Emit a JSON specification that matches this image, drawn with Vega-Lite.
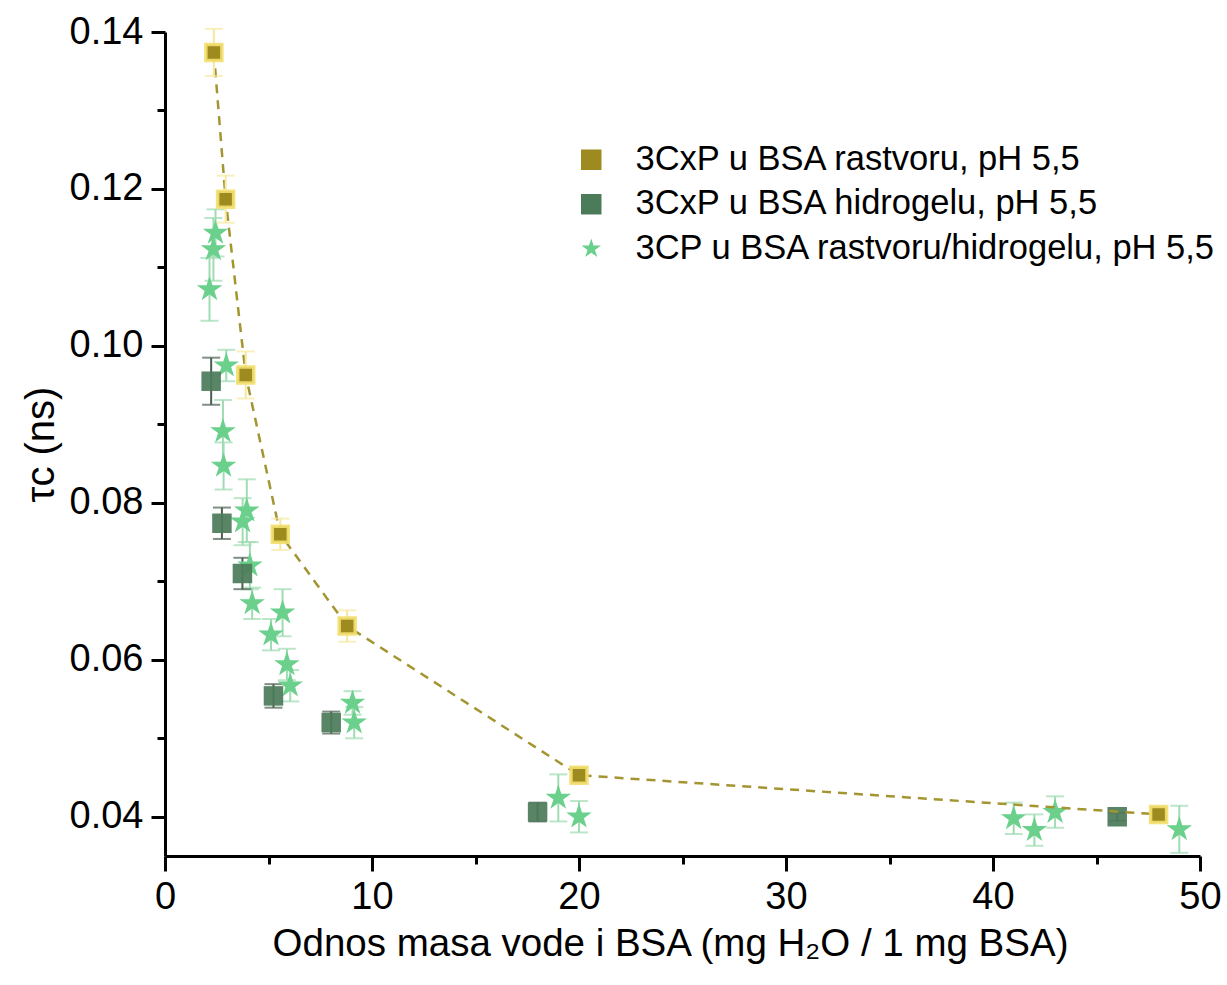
{
  "$schema": "https://vega.github.io/schema/vega-lite/v6.json",
  "width": 1035,
  "height": 824,
  "autosize": {"type": "none"},
  "padding": {"left": 165, "top": 32, "right": 27, "bottom": 129},
  "background": "white",
  "config": {
    "view": {"stroke": null},
    "font": "Liberation Sans",
    "axis": {
      "grid": false,
      "domainColor": "black",
      "tickColor": "black",
      "labelColor": "black",
      "titleColor": "black",
      "labelFont": "Liberation Sans",
      "titleFont": "Liberation Sans",
      "titleFontWeight": "normal",
      "domainWidth": 3,
      "tickWidth": 3,
      "labelOverlap": false,
      "labelBound": false
    },
    "legend": {
      "orient": "none", "legendX": 409, "legendY": 110.5, "title": null, "labelFontSize": 34.5, "labelFont": "Liberation Sans", "labelColor": "black",
      "symbolSize": 420, "labelOffset": 27, "rowPadding": 9.5, "labelLimit": 1000, "padding": 0
    }
  },
  "datasets": {
    "pts": [
      {"series": "3CxP u BSA rastvoru, pH 5,5", "x": 2.36, "y": 0.1374, "err": 0.003},
      {"series": "3CxP u BSA rastvoru, pH 5,5", "x": 2.93, "y": 0.1187, "err": 0.003},
      {"series": "3CxP u BSA rastvoru, pH 5,5", "x": 3.9, "y": 0.0963, "err": 0.003},
      {"series": "3CxP u BSA rastvoru, pH 5,5", "x": 5.57, "y": 0.0760, "err": 0.002},
      {"series": "3CxP u BSA rastvoru, pH 5,5", "x": 8.8, "y": 0.0643, "err": 0.002},
      {"series": "3CxP u BSA rastvoru, pH 5,5", "x": 20, "y": 0.0453, "err": 0.001},
      {"series": "3CxP u BSA rastvoru, pH 5,5", "x": 48, "y": 0.0403, "err": 0.0008},
      {"series": "3CxP u BSA hidrogelu, pH 5,5", "x": 2.23, "y": 0.0955, "err": 0.003},
      {"series": "3CxP u BSA hidrogelu, pH 5,5", "x": 2.75, "y": 0.0774, "err": 0.002},
      {"series": "3CxP u BSA hidrogelu, pH 5,5", "x": 3.74, "y": 0.0710, "err": 0.002},
      {"series": "3CxP u BSA hidrogelu, pH 5,5", "x": 5.24, "y": 0.0554, "err": 0.0015},
      {"series": "3CxP u BSA hidrogelu, pH 5,5", "x": 8.03, "y": 0.0520, "err": 0.0014},
      {"series": "3CxP u BSA hidrogelu, pH 5,5", "x": 18, "y": 0.0406, "err": 0.0012},
      {"series": "3CxP u BSA hidrogelu, pH 5,5", "x": 46, "y": 0.0400, "err": 0.0005},
      {"series": "3CP u BSA rastvoru/hidrogelu, pH 5,5", "x": 2.44, "y": 0.1144, "err": 0.003},
      {"series": "3CP u BSA rastvoru/hidrogelu, pH 5,5", "x": 2.34, "y": 0.1123, "err": 0.004},
      {"series": "3CP u BSA rastvoru/hidrogelu, pH 5,5", "x": 2.15, "y": 0.1072, "err": 0.004},
      {"series": "3CP u BSA rastvoru/hidrogelu, pH 5,5", "x": 2.96, "y": 0.0975, "err": 0.002},
      {"series": "3CP u BSA rastvoru/hidrogelu, pH 5,5", "x": 2.80, "y": 0.0891, "err": 0.004},
      {"series": "3CP u BSA rastvoru/hidrogelu, pH 5,5", "x": 2.83, "y": 0.0847, "err": 0.003},
      {"series": "3CP u BSA rastvoru/hidrogelu, pH 5,5", "x": 3.95, "y": 0.0790, "err": 0.004},
      {"series": "3CP u BSA rastvoru/hidrogelu, pH 5,5", "x": 3.75, "y": 0.0776, "err": 0.003},
      {"series": "3CP u BSA rastvoru/hidrogelu, pH 5,5", "x": 4.1, "y": 0.0720, "err": 0.003},
      {"series": "3CP u BSA rastvoru/hidrogelu, pH 5,5", "x": 4.21, "y": 0.0672, "err": 0.002},
      {"series": "3CP u BSA rastvoru/hidrogelu, pH 5,5", "x": 5.68, "y": 0.0660, "err": 0.003},
      {"series": "3CP u BSA rastvoru/hidrogelu, pH 5,5", "x": 5.12, "y": 0.0632, "err": 0.002},
      {"series": "3CP u BSA rastvoru/hidrogelu, pH 5,5", "x": 5.89, "y": 0.0594, "err": 0.002},
      {"series": "3CP u BSA rastvoru/hidrogelu, pH 5,5", "x": 6.05, "y": 0.0567, "err": 0.002},
      {"series": "3CP u BSA rastvoru/hidrogelu, pH 5,5", "x": 9.06, "y": 0.0545, "err": 0.0015},
      {"series": "3CP u BSA rastvoru/hidrogelu, pH 5,5", "x": 9.14, "y": 0.0520, "err": 0.002},
      {"series": "3CP u BSA rastvoru/hidrogelu, pH 5,5", "x": 19, "y": 0.0424, "err": 0.003},
      {"series": "3CP u BSA rastvoru/hidrogelu, pH 5,5", "x": 20, "y": 0.0400, "err": 0.002},
      {"series": "3CP u BSA rastvoru/hidrogelu, pH 5,5", "x": 41, "y": 0.0398, "err": 0.002},
      {"series": "3CP u BSA rastvoru/hidrogelu, pH 5,5", "x": 42, "y": 0.0383, "err": 0.002},
      {"series": "3CP u BSA rastvoru/hidrogelu, pH 5,5", "x": 43, "y": 0.0406, "err": 0.002},
      {"series": "3CP u BSA rastvoru/hidrogelu, pH 5,5", "x": 49, "y": 0.0384, "err": 0.003}
    ]
  },
  "data": {"name": "pts"},
  "layer": [
    {
      "encoding": {
        "x": {"field": "x", "type": "quantitative", "scale": {"domain": [0, 50], "nice": false, "zero": false},
          "axis": {"orient": "bottom", "values": [0, 10, 20, 30, 40, 50], "format": "d", "labelFontSize": 38, "tickSize": 15, "labelPadding": 7, "labelFlush": false,
            "title": "Odnos masa vode i BSA (mg H₂O / 1 mg BSA)", "titleFontSize": 38.5, "titlePadding": 9, "titleX": 505, "titleAlign": "center"}},
        "y": {"field": "y", "type": "quantitative", "scale": {"domain": [0.035, 0.14], "nice": false, "zero": false},
          "axis": {"orient": "left", "values": [0.04, 0.06, 0.08, 0.1, 0.12, 0.14], "format": ".2f", "labelFontSize": 38, "tickSize": 14, "labelPadding": 8,
            "title": "τc (ns)", "titleFontSize": 40, "titlePadding": 8}},
        "color": {"field": "series", "type": "nominal",
          "scale": {"domain": ["3CxP u BSA rastvoru, pH 5,5", "3CxP u BSA hidrogelu, pH 5,5", "3CP u BSA rastvoru/hidrogelu, pH 5,5"], "range": ["#9e8b1f", "#4b7b59", "#6bd08c"]},
          "legend": {
            "encode": {"symbols": {"update": {
              "stroke": {"signal": "datum.value === '3CxP u BSA rastvoru, pH 5,5' ? '#f3df6e' : 'transparent'"},
              "strokeWidth": {"value": 3},
              "size": {"signal": "datum.value === '3CP u BSA rastvoru/hidrogelu, pH 5,5' ? 640 : (datum.value === '3CxP u BSA rastvoru, pH 5,5' ? 300 : 380)"}}}}}},
        "shape": {"field": "series", "type": "nominal",
          "scale": {"domain": ["3CxP u BSA rastvoru, pH 5,5", "3CxP u BSA hidrogelu, pH 5,5", "3CP u BSA rastvoru/hidrogelu, pH 5,5"], "range": ["square", "square", "M0,-1L0.2245,-0.309L0.951,-0.309L0.363,0.118L0.588,0.809L0,0.382L-0.588,0.809L-0.363,0.118L-0.951,-0.309L-0.2245,-0.309Z"]}}
      },
      "layer": [
        {
          "transform": [{"filter": "datum.series === '3CP u BSA rastvoru/hidrogelu, pH 5,5'"}],
          "mark": {"type": "errorbar", "ticks": true, "size": 18, "thickness": 2, "color": "#9fdcb2"},
          "encoding": {"yError": {"field": "err"}, "color": {"value": "#9fdcb2"}, "shape": null}
        },
        {
          "transform": [{"filter": "datum.series === '3CxP u BSA hidrogelu, pH 5,5'"}],
          "mark": {"type": "errorbar", "ticks": true, "size": 18, "thickness": 2, "color": "#4a5f50"},
          "encoding": {"yError": {"field": "err"}, "color": {"value": "#4a5f50"}, "shape": null}
        },
        {
          "transform": [{"filter": "datum.series === '3CP u BSA rastvoru/hidrogelu, pH 5,5'"}],
          "mark": {"type": "point", "filled": true, "size": 720, "opacity": 1}
        },
        {
          "transform": [{"filter": "datum.series === '3CxP u BSA hidrogelu, pH 5,5'"}],
          "mark": {"type": "point", "filled": true, "size": 380, "opacity": 0.92}
        },
        {
          "transform": [{"filter": "datum.series === '3CxP u BSA rastvoru, pH 5,5'"}],
          "mark": {"type": "line", "color": "#a39530", "strokeWidth": 2.5, "strokeDash": [9, 7]},
          "encoding": {"color": {"value": "#a39530"}, "shape": null}
        },
        {
          "transform": [{"filter": "datum.series === '3CxP u BSA rastvoru, pH 5,5'"}],
          "mark": {"type": "errorbar", "ticks": true, "size": 18, "thickness": 2, "color": "#f5e8a0"},
          "encoding": {"yError": {"field": "err"}, "color": {"value": "#f5e8a0"}, "shape": null}
        },
        {
          "transform": [{"filter": "datum.series === '3CxP u BSA rastvoru, pH 5,5'"}],
          "mark": {"type": "point", "filled": true, "size": 256, "opacity": 1, "stroke": "#f3df6e", "strokeWidth": 3.5, "strokeOpacity": 0.9}
        }
      ]
    },
    {
      "mark": {"type": "point", "opacity": 0},
      "encoding": {
        "x": {"field": "x", "type": "quantitative", "axis": {"orient": "bottom", "values": [5, 15, 25, 35, 45], "labels": false, "tickSize": 8, "domain": false, "title": null}},
        "y": {"field": "y", "type": "quantitative", "axis": {"orient": "left", "values": [0.05, 0.07, 0.09, 0.11, 0.13], "labels": false, "tickSize": 8, "domain": false, "title": null}}
      }
    }
  ],
  "resolve": {"axis": {"x": "independent", "y": "independent"}}
}
